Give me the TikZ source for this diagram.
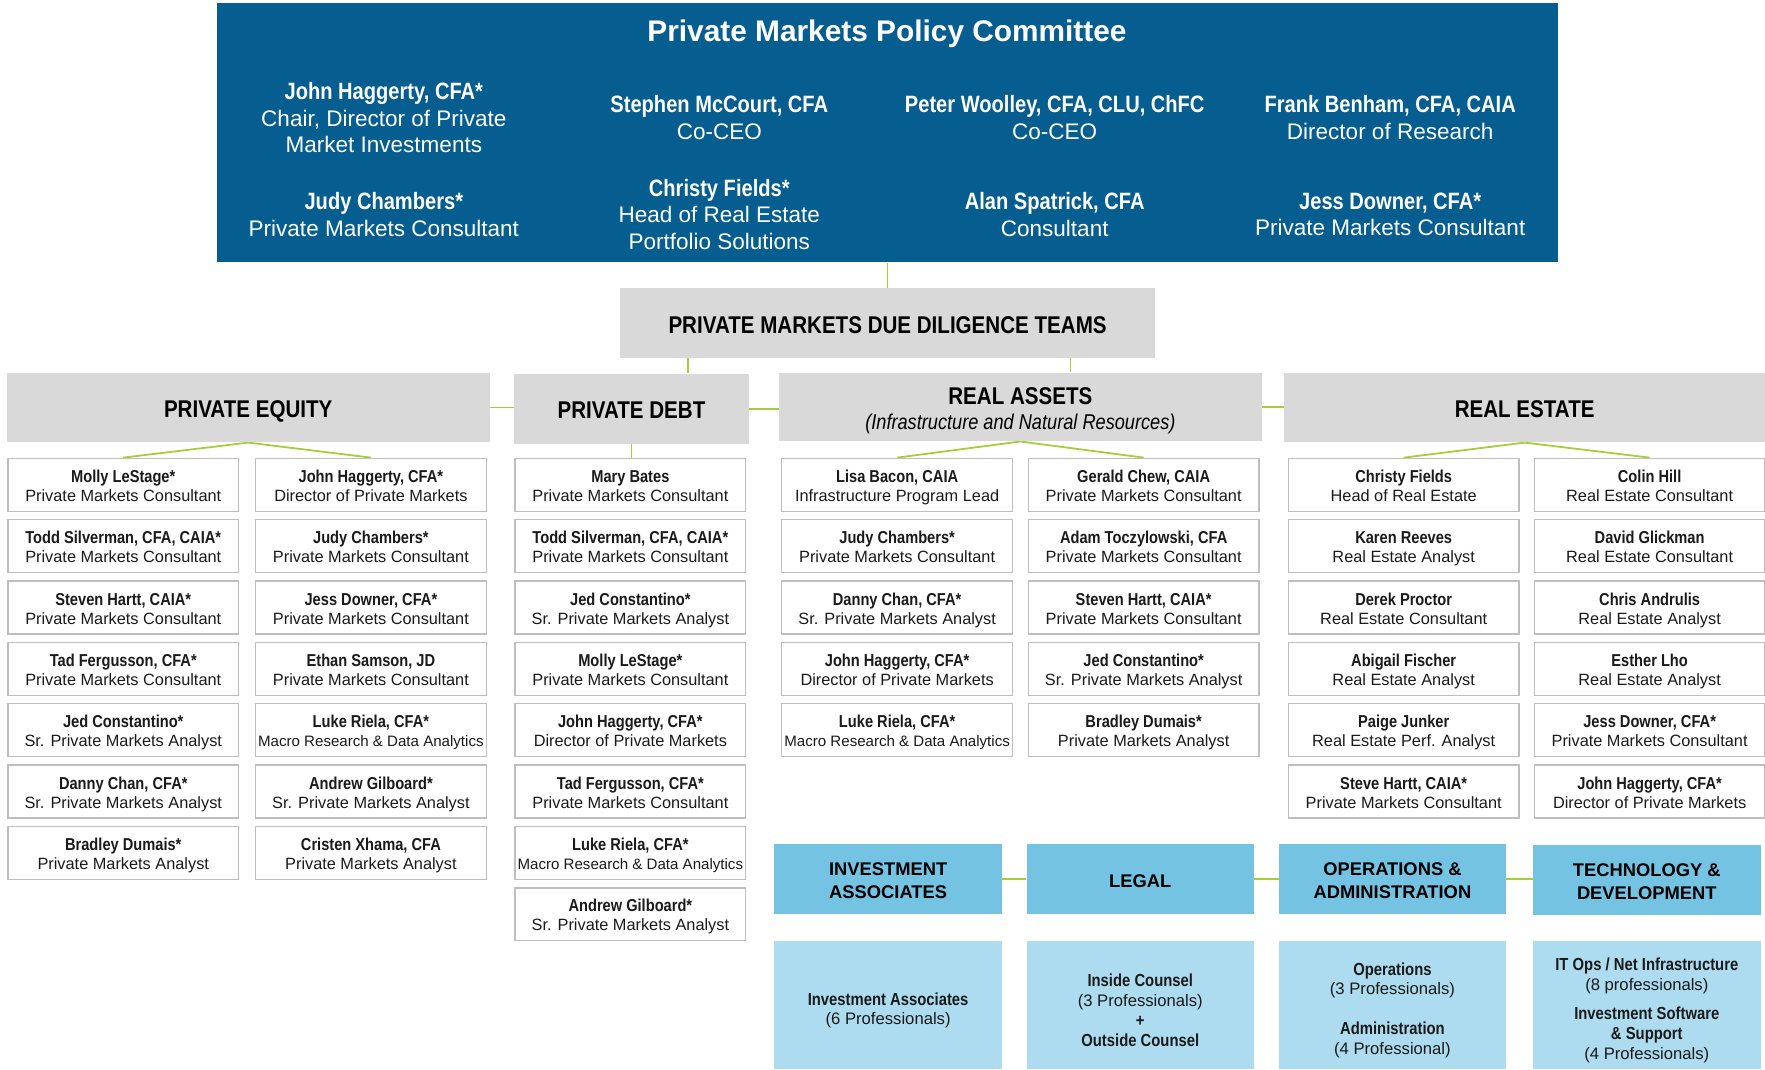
\documentclass[tikz,border=0pt]{standalone}
\usepackage{fontspec}
\setmainfont{Liberation Sans}
\newfontfamily\condfont[FakeStretch=0.85]{Liberation Sans}
\usetikzlibrary{backgrounds}

\definecolor{navy}{HTML}{055E8F}
\definecolor{leaf}{HTML}{A8CD3B}
\definecolor{panel}{HTML}{D9D9D9}
\definecolor{frame}{HTML}{BEBEBE}
\definecolor{sky}{HTML}{74C3E3}
\definecolor{pale}{HTML}{ADDCF0}
\definecolor{ink}{HTML}{1A1A1A}

\newcommand\fsz[2]{\fontsize{#1}{#2}\selectfont}
% committee member name
\newcommand\mname[1]{{\condfont\bfseries\fsz{21}{23.5}#1}}
% team member card: bold name over role, with fixed struts so every card sits alike
\newcommand\badge[2]{{\condfont\bfseries\fsz{15.3}{17}\rule{0pt}{16pt}#1}\\{\fsz{14.5}{17}#2\rule[-3.4pt]{0pt}{3.4pt}}}
\newcommand\smallrole[1]{{\fsz{13.4}{17}#1}}
% bold line in the staff panels
\newcommand\sbold[1]{{\condfont\bfseries\fsz{15.5}{17.5}#1}}
% one card: name, x centre, row, person, role
\newcommand\cardat[5]{\node[card] (#1) at (#2,{430.7+54.5*#3}) {\badge{#4}{#5}};}

\tikzset{
  link/.style={draw=leaf, line width=1.6pt},
  card/.style={draw=frame, line width=1.3pt, fill=white, minimum width=205pt,
    minimum height=47pt, inner sep=0pt, align=center, text=ink, font=\fsz{14.5}{17}},
  team/.style={fill=panel, inner sep=0pt, minimum height=62pt, align=center,
    text=black, text height=18pt, text depth=0pt, font={\condfont\bfseries\fsz{21.5}{22}}},
  teamtext/.style={inner sep=0pt, align=center, text=black, font={\condfont\bfseries\fsz{21.5}{22}}},
  member/.style={text=white, align=center, inner sep=0pt, font=\fsz{20}{23.5}},
  unit/.style={fill=sky, minimum width=202pt, minimum height=62pt, inner sep=0pt},
  unittext/.style={inner sep=0pt, align=center, text=black, font={\bfseries\fsz{16.3}{20.5}}},
  staff/.style={fill=pale, minimum width=202pt, minimum height=114pt, inner sep=0pt},
  stafftext/.style={inner sep=0pt, align=center, text=ink, font=\fsz{14.8}{17.5}},
}

\begin{document}
\begin{tikzpicture}[x=1pt, y=-1pt]
\useasboundingbox (0,0) rectangle (1568,950);

% ---- policy committee ----
\node[fill=navy, minimum width=1191pt, minimum height=230pt, inner sep=0pt] (board) at (788.5,118) {};
\node[text=white, inner sep=0pt, font={\bfseries\fsz{26.5}{30}}] (title) at (788,30) {Private Markets Policy Committee};
\node[member] (m1) at (341,104.5) {\mname{John Haggerty, CFA*}\\Chair, Director of Private\\Market Investments};
\node[member] (m2) at (639,104.5) {\mname{Stephen McCourt, CFA}\\Co-CEO};
\node[member] (m3) at (937,104.5) {\mname{Peter Woolley, CFA, CLU, ChFC}\\Co-CEO};
\node[member] (m4) at (1235,104.5) {\mname{Frank Benham, CFA, CAIA}\\Director of Research};
\node[member] (m5) at (341,190.5) {\mname{Judy Chambers*}\\Private Markets Consultant};
\node[member] (m6) at (639,190.5) {\mname{Christy Fields*}\\Head of Real Estate\\Portfolio Solutions};
\node[member] (m7) at (937,190.5) {\mname{Alan Spatrick, CFA}\\Consultant};
\node[member] (m8) at (1235,190.5) {\mname{Jess Downer, CFA*}\\Private Markets Consultant};

% ---- due diligence teams ----
\node[team, minimum width=475pt] (dd) at (788.5,287) {PRIVATE MARKETS DUE DILIGENCE TEAMS};
\node[team, minimum width=429pt] (pe) at (220.5,362) {PRIVATE EQUITY};
\node[team, minimum width=208pt] (pd) at (561,363) {PRIVATE DEBT};
\node[team, minimum width=429pt, minimum height=61pt] (ra) at (906.5,361.5) {};
\node[teamtext] (ralabel) at (906.5,365)
  {REAL ASSETS\\{\mdseries\itshape\fsz{19}{22}(Infrastructure and Natural Resources)}};
\node[team, minimum width=427pt] (re) at (1354.5,362) {REAL ESTATE};

% private equity
\cardat{pea}{109.5}{0}{Molly LeStage*}{Private Markets Consultant}
\cardat{peb}{109.5}{1}{Todd Silverman, CFA, CAIA*}{Private Markets Consultant}
\cardat{pec}{109.5}{2}{Steven Hartt, CAIA*}{Private Markets Consultant}
\cardat{ped}{109.5}{3}{Tad Fergusson, CFA*}{Private Markets Consultant}
\cardat{pee}{109.5}{4}{Jed Constantino*}{Sr. Private Markets Analyst}
\cardat{pef}{109.5}{5}{Danny Chan, CFA*}{Sr. Private Markets Analyst}
\cardat{peg}{109.5}{6}{Bradley Dumais*}{Private Markets Analyst}
\cardat{peh}{329.5}{0}{John Haggerty, CFA*}{Director of Private Markets}
\cardat{pei}{329.5}{1}{Judy Chambers*}{Private Markets Consultant}
\cardat{pej}{329.5}{2}{Jess Downer, CFA*}{Private Markets Consultant}
\cardat{pek}{329.5}{3}{Ethan Samson, JD}{Private Markets Consultant}
\cardat{pel}{329.5}{4}{Luke Riela, CFA*}{\smallrole{Macro Research \& Data Analytics}}
\cardat{pem}{329.5}{5}{Andrew Gilboard*}{Sr. Private Markets Analyst}
\cardat{pen}{329.5}{6}{Cristen Xhama, CFA}{Private Markets Analyst}

% private debt
\cardat{pda}{560}{0}{Mary Bates}{Private Markets Consultant}
\cardat{pdb}{560}{1}{Todd Silverman, CFA, CAIA*}{Private Markets Consultant}
\cardat{pdc}{560}{2}{Jed Constantino*}{Sr. Private Markets Analyst}
\cardat{pdd}{560}{3}{Molly LeStage*}{Private Markets Consultant}
\cardat{pde}{560}{4}{John Haggerty, CFA*}{Director of Private Markets}
\cardat{pdf}{560}{5}{Tad Fergusson, CFA*}{Private Markets Consultant}
\cardat{pdg}{560}{6}{Luke Riela, CFA*}{\smallrole{Macro Research \& Data Analytics}}
\cardat{pdh}{560}{7}{Andrew Gilboard*}{Sr. Private Markets Analyst}

% real assets
\cardat{raa}{797}{0}{Lisa Bacon, CAIA}{Infrastructure Program Lead}
\cardat{rab}{797}{1}{Judy Chambers*}{Private Markets Consultant}
\cardat{rac}{797}{2}{Danny Chan, CFA*}{Sr. Private Markets Analyst}
\cardat{rad}{797}{3}{John Haggerty, CFA*}{Director of Private Markets}
\cardat{rae}{797}{4}{Luke Riela, CFA*}{\smallrole{Macro Research \& Data Analytics}}
\cardat{raf}{1016}{0}{Gerald Chew, CAIA}{Private Markets Consultant}
\cardat{rag}{1016}{1}{Adam Toczylowski, CFA}{Private Markets Consultant}
\cardat{rah}{1016}{2}{Steven Hartt, CAIA*}{Private Markets Consultant}
\cardat{rai}{1016}{3}{Jed Constantino*}{Sr. Private Markets Analyst}
\cardat{raj}{1016}{4}{Bradley Dumais*}{Private Markets Analyst}

% real estate
\cardat{rea}{1247}{0}{Christy Fields}{Head of Real Estate}
\cardat{reb}{1247}{1}{Karen Reeves}{Real Estate Analyst}
\cardat{rec}{1247}{2}{Derek Proctor}{Real Estate Consultant}
\cardat{red}{1247}{3}{Abigail Fischer}{Real Estate Analyst}
\cardat{ree}{1247}{4}{Paige Junker}{Real Estate Perf. Analyst}
\cardat{ref}{1247}{5}{Steve Hartt, CAIA*}{Private Markets Consultant}
\cardat{reg}{1465.5}{0}{Colin Hill}{Real Estate Consultant}
\cardat{reh}{1465.5}{1}{David Glickman}{Real Estate Consultant}
\cardat{rei}{1465.5}{2}{Chris Andrulis}{Real Estate Analyst}
\cardat{rej}{1465.5}{3}{Esther Lho}{Real Estate Analyst}
\cardat{rek}{1465.5}{4}{Jess Downer, CFA*}{Private Markets Consultant}
\cardat{rel}{1465.5}{5}{John Haggerty, CFA*}{Director of Private Markets}

% ---- support units ----
\node[unit] (ia) at (789,781) {};
\node[unit] (legal) at (1013,781) {};
\node[unit] (ops) at (1237,781) {};
\node[unit] (tech) at (1463,782) {};
\node[unittext] (iahead) at (789,782.5) {INVESTMENT\\ASSOCIATES};
\node[unittext, text height=12pt, text depth=0pt] (legalhead) at (1013,782) {LEGAL};
\node[unittext] (opshead) at (1237,782.5) {OPERATIONS \&\\ADMINISTRATION};
\node[unittext] (techhead) at (1463,783.5) {TECHNOLOGY \&\\DEVELOPMENT};

\node[staff] (iastaff) at (789,893) {};
\node[staff] (legalstaff) at (1013,893) {};
\node[staff] (opsstaff) at (1237,893) {};
\node[staff] (techstaff) at (1463,893) {};
\node[stafftext] (iatext) at (789,897.5) {\sbold{Investment Associates}\\(6 Professionals)};
\node[stafftext] (legaltext) at (1013,897.5) {\sbold{Inside Counsel}\\(3 Professionals)\\\sbold{+}\\\sbold{Outside Counsel}};
\node[stafftext] (opstext) at (1237,897.5) {\sbold{Operations}\\(3 Professionals)\\[18pt]\sbold{Administration}\\(4 Professional)};
\node[stafftext] (techtext) at (1463,897.5) {\sbold{IT Ops / Net Infrastructure}\\(8 professionals)\\[8.5pt]\sbold{Investment Software}\\\sbold{\& Support}\\(4 Professionals)};

% ---- connectors ----
\coordinate (ddl) at (611,318);
\coordinate (ddr) at (951,318);
\begin{pgfonlayer}{background}
  \draw[link] (board.south) -- (dd.north);
  \draw[link] (ddl) -- (ddl |- pd.north);
  \draw[link] (ddr) -- (ddr |- ra.north);
  \draw[link] (pe.east) -- (pe.east -| pd.west);
  \draw[link] (pd.east) -- (pd.east -| ra.west);
  \draw[link] (ra.east) -- (ra.east -| re.west);
  \draw[link] (pe.south) -- (pea.north);
  \draw[link] (pe.south) -- (peh.north);
  \draw[link] (pd.south) -- (pd.south |- pda.north);
  \draw[link] (ra.south) -- (raa.north);
  \draw[link] (ra.south) -- (raf.north);
  \draw[link] (re.south) -- (rea.north);
  \draw[link] (re.south) -- (reg.north);
  \draw[link] (ia.east) -- (legal.west);
  \draw[link] (legal.east) -- (ops.west);
  \draw[link] (ops.east) -- (ops.east -| tech.west);
\end{pgfonlayer}
\end{tikzpicture}
\end{document}
